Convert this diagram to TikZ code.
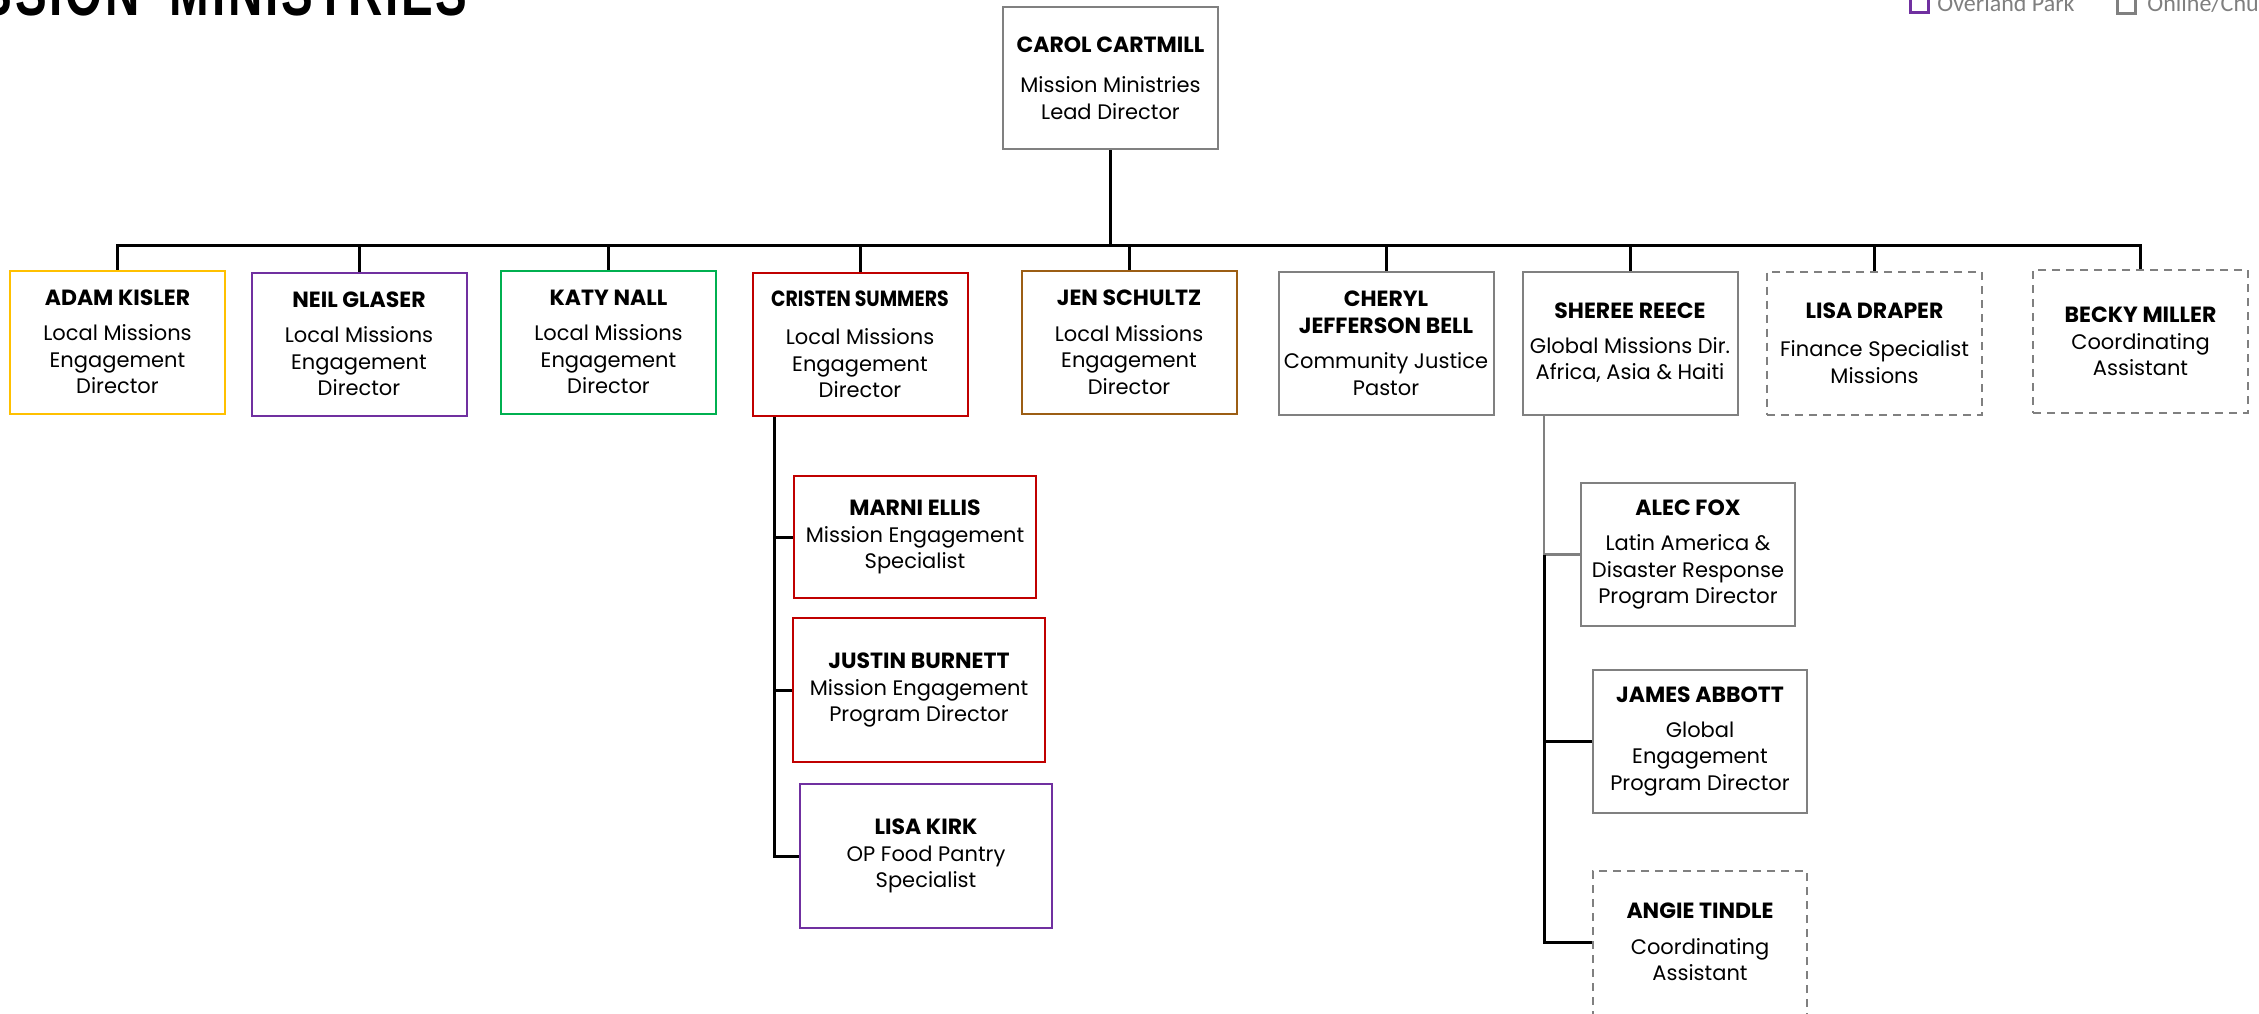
\documentclass[tikz,border=0pt]{standalone}
\usepackage{fontspec}
\setmainfont{Poppins}
\newfontfamily\titlefont{Liberation Sans}[LetterSpace=6]
\newfontfamily\legendfont{Carlito}
\definecolor{oyellow}{HTML}{FFC000}
\definecolor{opurple}{HTML}{7030A0}
\definecolor{ogreen}{HTML}{00B050}
\definecolor{ored}{HTML}{C00000}
\definecolor{obrown}{RGB}{156,94,20}
\definecolor{ogray}{HTML}{808080}
\definecolor{lgray}{HTML}{7F7F7F}
\newcommand{\nm}[1]{{\bfseries\fontsize{11}{13}\selectfont #1}}
\tikzset{
  x=0.5pt, y=-0.5pt,
  box/.style={draw=#1, line width=1pt, fill=white, align=center, inner sep=0pt,
    minimum width=107.5pt, minimum height=71.5pt,
    font=\fontsize{10.5}{13.25}\selectfont},
  dbox/.style={box=ogray, dash pattern=on 4pt off 3pt},
  conn/.style={draw=black, line width=1.5pt},
  conng/.style={draw=ogray, line width=1.2pt},
  legendtext/.style={anchor=base west, inner sep=0pt, text=lgray,
    font=\legendfont\fontsize{12}{14}\selectfont},
}
\begin{document}
\begin{tikzpicture}
\useasboundingbox (0,0) rectangle (2259,1013);
% title and legend
\node[anchor=base east, inner sep=0pt] (title) at (468,15)
  {\titlefont\bfseries\fontsize{33}{36}\selectfont\scalebox{0.72}[1]{MISSION\hspace{21pt}MINISTRIES}};
\node[draw=opurple, line width=1.5pt, minimum size=9pt, inner sep=0pt] (lgop) at (1919,3) {};
\node[legendtext] (lgoptxt) at (1937,11) {Overland Park};
\node[draw=ogray, line width=1.5pt, minimum size=9pt, inner sep=0pt] (lgon) at (2126.5,4) {};
\node[legendtext] (lgontxt) at (2147,11) {Online/Church};

% top
\node[box=ogray, minimum height=71pt] (carol) at (1110.5,78)
  {\nm{CAROL CARTMILL}\\[7pt]Mission Ministries\\Lead Director};

% level 2
\node[box=oyellow] (adam) at (117.5,342)
  {\nm{ADAM KISLER}\\[4.5pt]Local Missions\\Engagement\\Director};
\node[box=opurple] (neil) at (359,344)
  {\nm{NEIL GLASER}\\[4.5pt]Local Missions\\Engagement\\Director};
\node[box=ogreen] (katy) at (608.5,342)
  {\nm{KATY NALL}\\[4.5pt]Local Missions\\Engagement\\Director};
\node[box=ored] (cristen) at (860,344.5)
  {\nm{\scalebox{0.86}[1]{CRISTEN SUMMERS}}\\[6pt]Local Missions\\Engagement\\Director};
\node[box=obrown] (jen) at (1129,342.5)
  {\nm{JEN SCHULTZ}\\[4.5pt]Local Missions\\Engagement\\Director};
\node[box=ogray] (cheryl) at (1386,343.5)
  {\nm{CHERYL}\\\nm{JEFFERSON BELL}\\[4.5pt]Community Justice\\Pastor};
\node[box=ogray] (sheree) at (1630,343)
  {\nm{SHEREE REECE}\\[4pt]Global Missions Dir.\\Africa, Asia \& Haiti};
\node[dbox] (lisad) at (1874.5,343)
  {\nm{LISA DRAPER}\\[6pt]Finance Specialist\\Missions};
\node[dbox] (becky) at (2140.5,341.5)
  {\nm{BECKY MILLER}\\Coordinating\\Assistant};

% level 3 under Cristen
\node[box=ored, minimum width=121pt, minimum height=61pt] (marni) at (915,537)
  {\nm{MARNI ELLIS}\\Mission Engagement\\Specialist};
\node[box=ored, minimum width=126pt, minimum height=72pt] (justin) at (919,690)
  {\nm{JUSTIN BURNETT}\\Mission Engagement\\Program Director};
\node[box=opurple, minimum width=126pt, minimum height=72pt] (lisak) at (926,856)
  {\nm{LISA KIRK}\\OP Food Pantry\\Specialist};

% level 3 under Sheree
\node[box=ogray, minimum width=107pt, minimum height=71.5pt] (alec) at (1688,554.5)
  {\nm{ALEC FOX}\\[4.5pt]Latin America \&\\Disaster Response\\Program Director};
\node[box=ogray, minimum width=107pt, minimum height=71.5pt] (james) at (1700,741.5)
  {\nm{JAMES ABBOTT}\\[4pt]Global\\Engagement\\Program Director};
\node[dbox, minimum width=107pt, minimum height=150pt] (angie) at (1700,1021) {};
\node[align=center, inner sep=0pt, font=\fontsize{10.5}{13.25}\selectfont] (angietxt) at (1700,942)
  {\nm{ANGIE TINDLE}\\[4.5pt]Coordinating\\Assistant};

% connectors
\coordinate (bus) at (0,245);
\draw[conn] (carol.south) -- (carol.south |- bus);
\draw[conn, line cap=rect] (adam.north |- bus) -- (becky.north |- bus);
\foreach \n in {adam,neil,katy,cristen,jen,cheryl,sheree,lisad,becky}
  \draw[conn] (\n.north) -- (\n.north |- bus);

\coordinate (cs) at (774,417);
\draw[conn] (cs) |- (lisak.west);
\draw[conn] (marni.west) -- (marni.west -| cs);
\draw[conn] (justin.west) -- (justin.west -| cs);

\coordinate (ss) at (1544,414);
\draw[conng] (ss) |- (alec.west);
\draw[conn] (alec.west -| ss) |- (angie.west |- angietxt.center);
\draw[conn] (james.west) -- (james.west -| ss);
\end{tikzpicture}
\end{document}
